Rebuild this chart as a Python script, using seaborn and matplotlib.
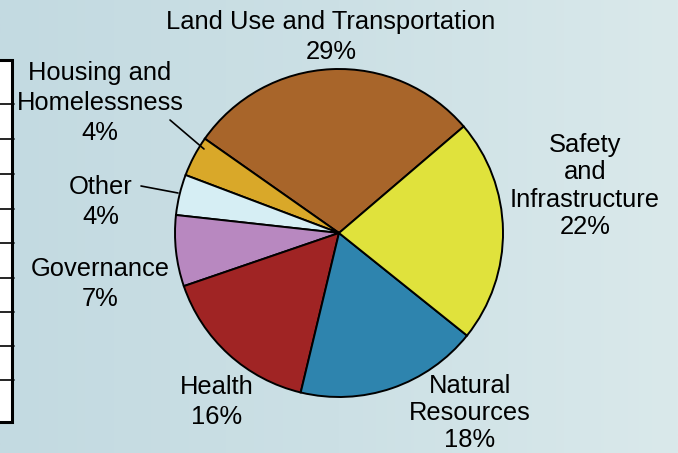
import numpy as np
import matplotlib
matplotlib.use("Agg")
import matplotlib.pyplot as plt
import seaborn as sns
from matplotlib.colors import LinearSegmentedColormap

# slice data, counterclockwise from the upper-right boundary
categories = ["Land Use and Transportation", "Housing and Homelessness", "Other",
              "Governance", "Health", "Natural Resources", "Safety and Infrastructure"]
shares = [29, 4, 4, 7, 16, 18, 22]
colors = ["#A8652A", "#D9A829", "#D6EEF4", "#B888C0", "#A02424", "#2E84AE", "#E0E23C"]

label_text = ["Land Use and Transportation\n29%", "Housing and\nHomelessness\n4%", "Other\n4%",
              "Governance\n7%", "Health\n16%", "Natural\nResources\n18%", "Safety\nand\nInfrastructure\n22%"]

sns.set_style("white")
plt.rcParams['font.family'] = ['Liberation Sans', 'DejaVu Sans']

W, H = 678, 453
fig = plt.figure(figsize=(W / 100, H / 100), dpi=100)
ax = fig.add_axes([0, 0, 1, 1])

# background gradient
bg = LinearSegmentedColormap.from_list("bg", ["#C3DAE1", "#CCE0E5", "#DAE9EB"])
grad = np.linspace(0, 1, 256).reshape(1, -1)
ax.imshow(grad, cmap=bg, extent=[0, W, 0, H], aspect="auto", zorder=0)

# cut-off table on the left edge
ax.add_patch(plt.Rectangle((-5, H - 422), 17, 362, facecolor="white",
                           edgecolor="black", linewidth=2.2, zorder=1))
for yy in [104, 139, 174, 209, 243, 278, 312, 346, 380]:
    ax.plot([0, 14], [H - yy, H - yy], color="black", linewidth=1.2, zorder=2)

# pie
ax.pie(shares, colors=colors, startangle=40.5, counterclock=True,
       center=(339, H - 233), radius=164,
       wedgeprops=dict(edgecolor="black", linewidth=1.4), frame=True)

# labels (x, y centre in pixels from top, line spacing)
label_pos = [(331, 37, 1.33), (100, 103, 1.31), (101, 202, 1.3), (100, 284, 1.33),
             (217, 402, 1.33), (470, 413, 1.15), (585, 186, 1.16)]
for txt, (lx, ly, ls) in zip(label_text, label_pos):
    ax.text(lx, H - ly, txt, ha="center", va="center", fontsize=18.4,
            linespacing=ls, color="black", zorder=5)

# leader lines
ax.plot([170, 204], [H - 120, H - 149], color="black", linewidth=1.2, zorder=4)
ax.plot([141, 178], [H - 186, H - 193], color="black", linewidth=1.2, zorder=4)

ax.set_xlim(0, W)
ax.set_ylim(0, H)
ax.set_aspect("auto")
ax.axis("off")

fig.savefig("out.png", dpi=100)
